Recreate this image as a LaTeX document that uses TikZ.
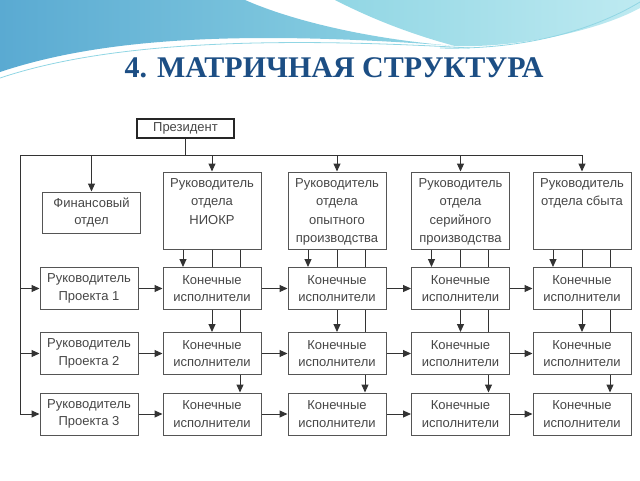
\documentclass[tikz,border=0pt]{standalone}
\usepackage{fontspec}
\setmainfont{Liberation Serif}
\setsansfont{Liberation Sans}
\usetikzlibrary{arrows.meta}
\definecolor{titleblue}{RGB}{28,78,132}
\definecolor{boxgray}{RGB}{85,85,85}
\definecolor{txtgray}{RGB}{70,70,70}
\definecolor{waveblue}{RGB}{90,170,210}
\definecolor{wavecyan}{RGB}{145,214,228}
\definecolor{wavelight}{RGB}{190,234,241}
\begin{document}
\begin{tikzpicture}[x=1pt,y=-1pt]
\tikzstyle{box}=[draw=boxgray,line width=1pt,minimum width=98pt,minimum height=42pt,inner sep=2pt,align=center,text=txtgray,font=\sffamily\fontsize{13}{17.5}\selectfont];
\tikzstyle{pres}=[box,draw=black!85,line width=2pt,minimum width=97pt,minimum height=19pt];
\tikzstyle{head}=[box,minimum height=77pt];
\tikzstyle{htxt}=[anchor=north,inner sep=6.5pt,align=center,text=txtgray,font=\sffamily\fontsize{13}{18.5}\selectfont];
\tikzstyle{alloc}=[draw=black!80,line width=1pt,-{Triangle[length=8pt,width=7pt]}];
\tikzstyle{link}=[draw=black!80,line width=1pt];
\useasboundingbox (0,0) rectangle (640,480);
% top wave
\shade[left color=waveblue,right color=wavecyan] (0,0) -- (245,0) .. controls (300,24) and (380,40) .. (455,46) .. controls (220,28) and (90,42) .. (0,72) -- cycle;
\shade[left color=wavecyan,right color=wavelight] (335,0) -- (640,0) -- (640,8) .. controls (600,30) and (520,48) .. (455,46) .. controls (410,34) and (370,18) .. (335,0) -- cycle;
\draw[wavecyan,line width=0.8pt] (0,78) .. controls (90,48) and (230,34) .. (470,48);
\draw[wavecyan,line width=0.8pt] (640,2) .. controls (590,32) and (520,50) .. (440,48);
\node[text=titleblue,font=\fontsize{30}{34}\selectfont\bfseries] (title) at (334,68) {4. МАТРИЧНАЯ СТРУКТУРА};

\node [pres] (p) at (185.5,128) {Президент};
\node [box,minimum height=41pt] (f) at (91.5,212.5) {Финансовый\\отдел};
\node [head,label={[htxt]north:Руководитель\\отдела\\НИОКР}] (h1) at (212,210.5) {};
\node [head,label={[htxt]north:Руководитель\\отдела\\опытного\\производства}] (h2) at (337,210.5) {};
\node [head,label={[htxt]north:Руководитель\\отдела\\серийного\\производства}] (h3) at (460.5,210.5) {};
\node [head,label={[htxt]north:Руководитель\\отдела сбыта}] (h4) at (582,210.5) {};

\node [box] (r1) at (89,288.5) {Руководитель\\Проекта 1};
\node [box] (r2) at (89,353.5) {Руководитель\\Проекта 2};
\node [box] (r3) at (89,414) {Руководитель\\Проекта 3};

\node [box] (e11) at (212,288.5) {Конечные\\исполнители};
\node [box] (e21) at (337,288.5) {Конечные\\исполнители};
\node [box] (e31) at (460.5,288.5) {Конечные\\исполнители};
\node [box] (e41) at (582,288.5) {Конечные\\исполнители};
\node [box] (e12) at (212,353.5) {Конечные\\исполнители};
\node [box] (e22) at (337,353.5) {Конечные\\исполнители};
\node [box] (e32) at (460.5,353.5) {Конечные\\исполнители};
\node [box] (e42) at (582,353.5) {Конечные\\исполнители};
\node [box] (e13) at (212,414) {Конечные\\исполнители};
\node [box] (e23) at (337,414) {Конечные\\исполнители};
\node [box] (e33) at (460.5,414) {Конечные\\исполнители};
\node [box] (e43) at (582,414) {Конечные\\исполнители};

% president bus
\coordinate (bl) at (20,155);
\coordinate (br) at (582,155);
\draw [link] (p.south) -- (p.south |- bl);
\draw [link] (bl) -- (br);
\draw [alloc] (f.north |- bl) -- (f.north);
\draw [alloc] (h1.north |- bl) -- (h1.north);
\draw [alloc] (h2.north |- bl) -- (h2.north);
\draw [alloc] (h3.north |- bl) -- (h3.north);
\draw [alloc] (h4.north |- bl) -- (h4.north);
\draw [link] (bl) -- (bl |- r3.west);
\draw [alloc] (bl |- r1.west) -- (r1.west);
\draw [alloc] (bl |- r2.west) -- (r2.west);
\draw [alloc] (bl |- r3.west) -- (r3.west);

% rows
\draw [alloc] (r1) -- (e11);
\draw [alloc] (e11) -- (e21);
\draw [alloc] (e21) -- (e31);
\draw [alloc] (e31) -- (e41);
\draw [alloc] (r2) -- (e12);
\draw [alloc] (e12) -- (e22);
\draw [alloc] (e22) -- (e32);
\draw [alloc] (e32) -- (e42);
\draw [alloc] (r3) -- (e13);
\draw [alloc] (e13) -- (e23);
\draw [alloc] (e23) -- (e33);
\draw [alloc] (e33) -- (e43);

% columns
\draw [alloc] ([xshift=-29]h1.south) -- ([xshift=-29]e11.north);
\draw [link] (h1.south) -- (e11.north);
\draw [link] ([xshift=28]h1.south) -- ([xshift=28]e11.north);
\draw [alloc] (e11.south) -- (e12.north);
\draw [link] ([xshift=28]e11.south) -- ([xshift=28]e12.north);
\draw [alloc] ([xshift=28]e12.south) -- ([xshift=28]e13.north);

\draw [alloc] ([xshift=-29]h2.south) -- ([xshift=-29]e21.north);
\draw [link] (h2.south) -- (e21.north);
\draw [link] ([xshift=28]h2.south) -- ([xshift=28]e21.north);
\draw [alloc] (e21.south) -- (e22.north);
\draw [link] ([xshift=28]e21.south) -- ([xshift=28]e22.north);
\draw [alloc] ([xshift=28]e22.south) -- ([xshift=28]e23.north);

\draw [alloc] ([xshift=-29]h3.south) -- ([xshift=-29]e31.north);
\draw [link] (h3.south) -- (e31.north);
\draw [link] ([xshift=28]h3.south) -- ([xshift=28]e31.north);
\draw [alloc] (e31.south) -- (e32.north);
\draw [link] ([xshift=28]e31.south) -- ([xshift=28]e32.north);
\draw [alloc] ([xshift=28]e32.south) -- ([xshift=28]e33.north);

\draw [alloc] ([xshift=-29]h4.south) -- ([xshift=-29]e41.north);
\draw [link] (h4.south) -- (e41.north);
\draw [link] ([xshift=28]h4.south) -- ([xshift=28]e41.north);
\draw [alloc] (e41.south) -- (e42.north);
\draw [link] ([xshift=28]e41.south) -- ([xshift=28]e42.north);
\draw [alloc] ([xshift=28]e42.south) -- ([xshift=28]e43.north);
\end{tikzpicture}
\end{document}
